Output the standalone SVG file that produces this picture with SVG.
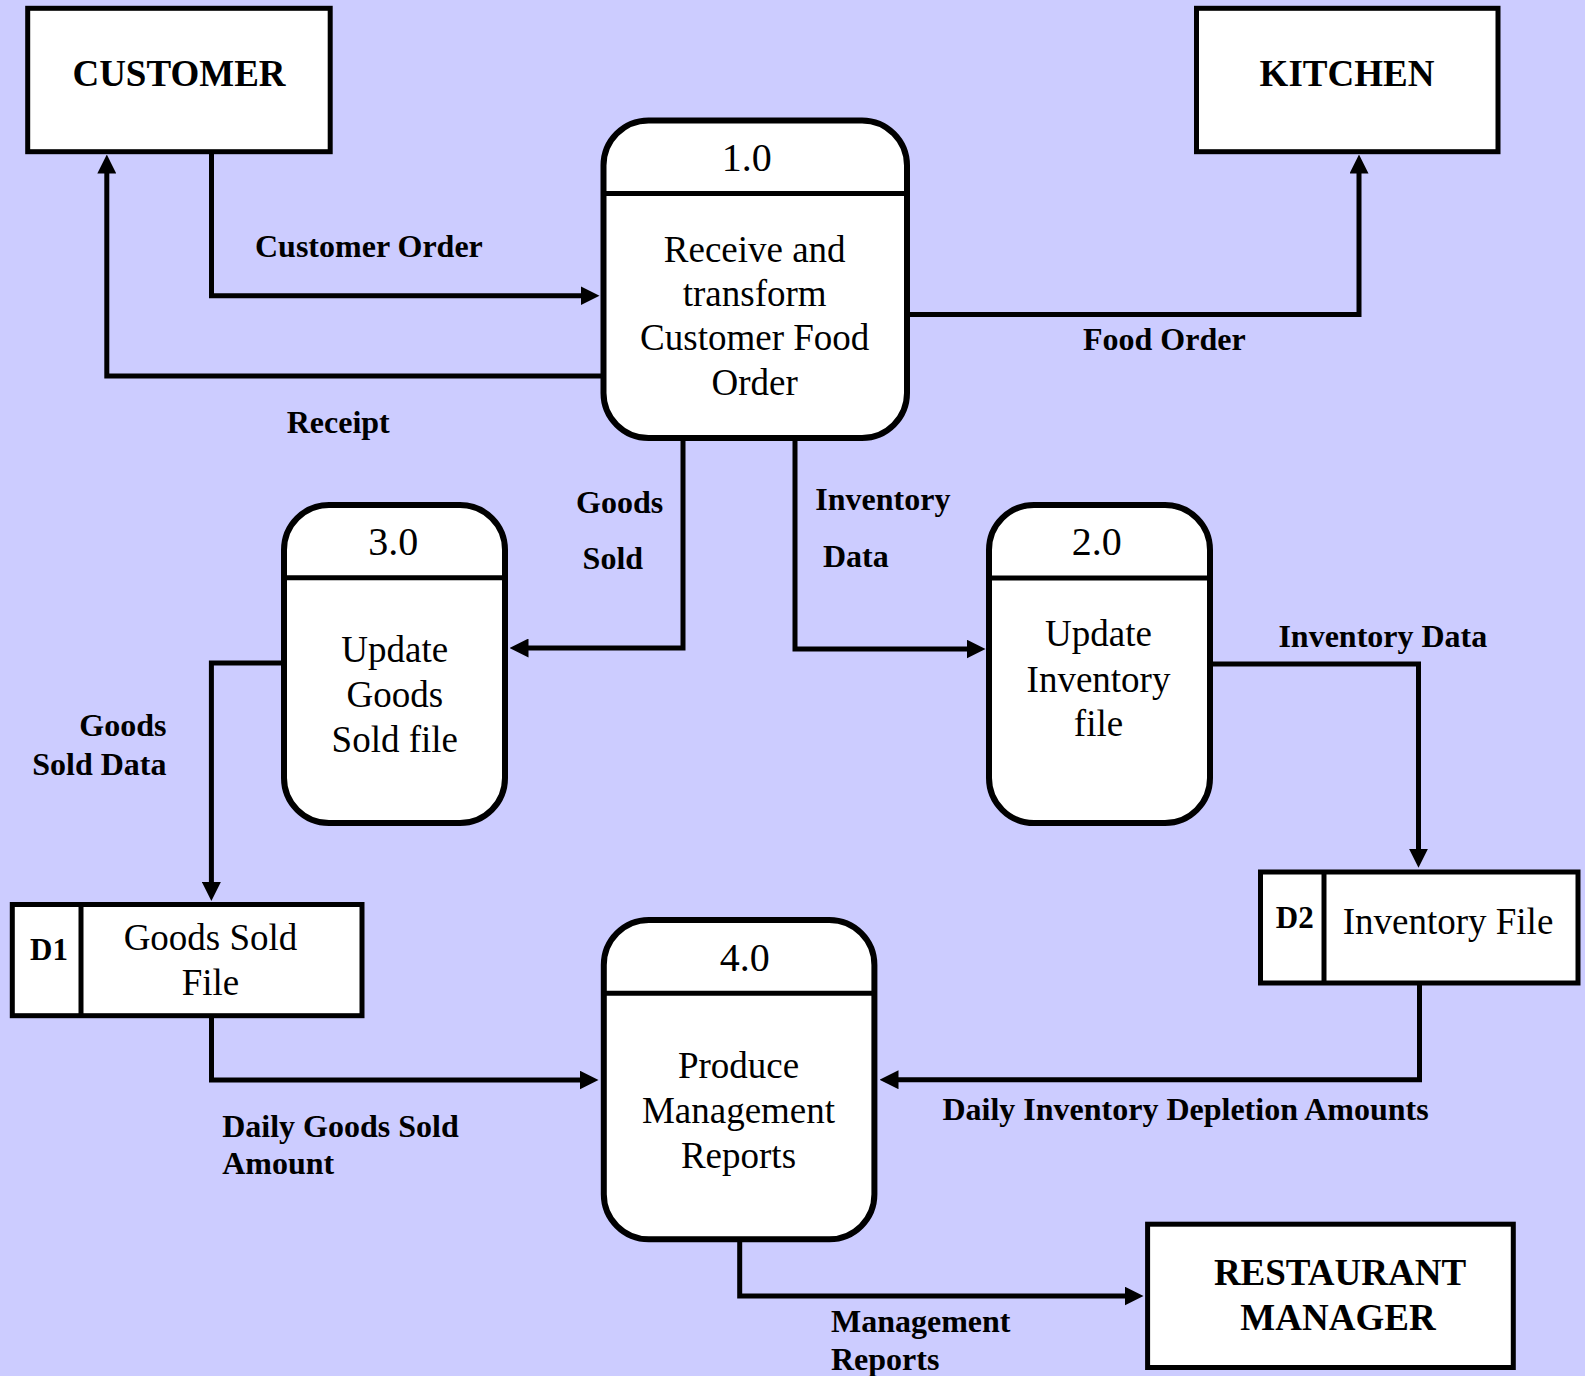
<svg xmlns="http://www.w3.org/2000/svg" width="1585" height="1376" viewBox="0 0 1585 1376">
  <style>
    .entity { fill: #FFFFFF; stroke: #000000; stroke-width: 5; }
    .proc { fill: #FFFFFF; stroke: #000000; stroke-width: 6; }
    .store { fill: #FFFFFF; stroke: #000000; stroke-width: 5; }
    .div { stroke: #000000; stroke-width: 5; fill: none; }
    .flow { fill: none; stroke: #000000; stroke-width: 5; stroke-linejoin: miter; marker-end: url(#arrow); }
    .ename { font-family: "Liberation Serif", "Times New Roman", serif; font-weight: bold; font-size: 37px; text-anchor: middle; fill: #000000; }
    .pnum { font-family: "Liberation Serif", "Times New Roman", serif; font-size: 40px; text-anchor: middle; fill: #000000; }
    .ptext { font-family: "Liberation Serif", "Times New Roman", serif; font-size: 37px; text-anchor: middle; fill: #000000; }
    .sid { font-family: "Liberation Serif", "Times New Roman", serif; font-weight: bold; font-size: 31px; text-anchor: middle; fill: #000000; }
    .label { font-family: "Liberation Serif", "Times New Roman", serif; font-weight: bold; font-size: 32px; fill: #000000; }
  </style>
  <defs>
    <marker id="arrow" markerUnits="userSpaceOnUse" viewBox="0 0 19 19" markerWidth="19" markerHeight="19" refX="0.5" refY="9.5" orient="auto">
      <path d="M0,0 L19,9.5 L0,19 Z" fill="#000000"/>
    </marker>
  </defs>

  <rect x="0" y="0" width="1585" height="1376" fill="#CCCCFF"/>

  <!-- external entities -->
  <g id="customer">
    <rect class="entity" x="27.7" y="8.3" width="302.5" height="143.4"/>
    <text class="ename" x="179" y="86">CUSTOMER</text>
  </g>
  <g id="kitchen">
    <rect class="entity" x="1196.5" y="8.3" width="301.5" height="143.4"/>
    <text class="ename" x="1347" y="86">KITCHEN</text>
  </g>
  <g id="restaurant-manager">
    <rect class="entity" x="1147.6" y="1224.2" width="365.7" height="143.3"/>
    <text class="ename" x="1340" y="1285">RESTAURANT</text>
    <text class="ename" x="1338" y="1330">MANAGER</text>
  </g>

  <!-- processes -->
  <g id="p1">
    <rect class="proc" x="603.5" y="120.5" width="303.5" height="317.5" rx="45" ry="45"/>
    <line class="div" x1="603.5" y1="193.5" x2="907" y2="193.5"/>
    <text class="pnum" x="746.7" y="170.7">1.0</text>
    <text class="ptext" x="754.7" y="261.7">Receive and</text>
    <text class="ptext" x="754.7" y="305.7">transform</text>
    <text class="ptext" x="754.7" y="350">Customer Food</text>
    <text class="ptext" x="754.7" y="395">Order</text>
  </g>
  <g id="p2">
    <rect class="proc" x="989" y="505" width="221" height="318" rx="45" ry="45"/>
    <line class="div" x1="989" y1="578" x2="1210" y2="578"/>
    <text class="pnum" x="1096.8" y="555">2.0</text>
    <text class="ptext" x="1098.5" y="646">Update</text>
    <text class="ptext" x="1098.5" y="691.5">Inventory</text>
    <text class="ptext" x="1098.5" y="736">file</text>
  </g>
  <g id="p3">
    <rect class="proc" x="284" y="505" width="221" height="318" rx="45" ry="45"/>
    <line class="div" x1="284" y1="577.7" x2="505" y2="577.7"/>
    <text class="pnum" x="393.3" y="555">3.0</text>
    <text class="ptext" x="394.8" y="662">Update</text>
    <text class="ptext" x="394.8" y="706.8">Goods</text>
    <text class="ptext" x="394.8" y="751.7">Sold file</text>
  </g>
  <g id="p4">
    <rect class="proc" x="603.8" y="920" width="270.6" height="319.3" rx="45" ry="45"/>
    <line class="div" x1="603.8" y1="993.3" x2="874.4" y2="993.3"/>
    <text class="pnum" x="744.7" y="970.7">4.0</text>
    <text class="ptext" x="738.5" y="1077.5">Produce</text>
    <text class="ptext" x="738.5" y="1123">Management</text>
    <text class="ptext" x="738.5" y="1167.5">Reports</text>
  </g>

  <!-- data stores -->
  <g id="d1">
    <rect class="store" x="12.3" y="904.5" width="349.7" height="111.2"/>
    <line class="div" x1="81" y1="904.5" x2="81" y2="1015.7"/>
    <text class="sid" x="49" y="960.4">D1</text>
    <text class="ptext" x="210.5" y="949.5">Goods Sold</text>
    <text class="ptext" x="210.5" y="995">File</text>
  </g>
  <g id="d2">
    <rect class="store" x="1260.5" y="872" width="317.5" height="111"/>
    <line class="div" x1="1324" y1="872" x2="1324" y2="983"/>
    <text class="sid" x="1294.7" y="928.3">D2</text>
    <text class="ptext" x="1448" y="934">Inventory File</text>
  </g>

  <!-- data flows -->
  <g id="flows">
    <path class="flow" d="M211.5,151.7 V295.7 H581"/>
    <path class="flow" d="M603.5,376 H106.8 V173"/>
    <path class="flow" d="M907,314.5 H1359 V173"/>
    <path class="flow" d="M683,438 V648 H528"/>
    <path class="flow" d="M795,438 V649 H967"/>
    <path class="flow" d="M284,663 H211.4 V882.5"/>
    <path class="flow" d="M1210,664 H1418.5 V849.3"/>
    <path class="flow" d="M211.5,1015.7 V1080 H580"/>
    <path class="flow" d="M1419.5,983 V1079.7 H898"/>
    <path class="flow" d="M739.7,1239.3 V1296 H1125"/>
  </g>

  <!-- flow labels -->
  <g id="flow-labels">
    <text class="label" x="255" y="256.7">Customer Order</text>
    <text class="label" x="286.7" y="433">Receipt</text>
    <text class="label" x="1083" y="350">Food Order</text>
    <text class="label" x="576" y="513">Goods</text>
    <text class="label" x="582.6" y="569.3">Sold</text>
    <text class="label" x="815.3" y="509.5">Inventory</text>
    <text class="label" x="823" y="566.7">Data</text>
    <text class="label" x="1278.4" y="646.7">Inventory Data</text>
    <text class="label" x="166.5" y="736.4" text-anchor="end">Goods</text>
    <text class="label" x="166.5" y="774.6" text-anchor="end">Sold Data</text>
    <text class="label" x="222.2" y="1136.7">Daily Goods Sold</text>
    <text class="label" x="222.2" y="1174">Amount</text>
    <text class="label" x="942.4" y="1120">Daily Inventory Depletion Amounts</text>
    <text class="label" x="831" y="1331.7">Management</text>
    <text class="label" x="831" y="1370">Reports</text>
  </g>
</svg>
